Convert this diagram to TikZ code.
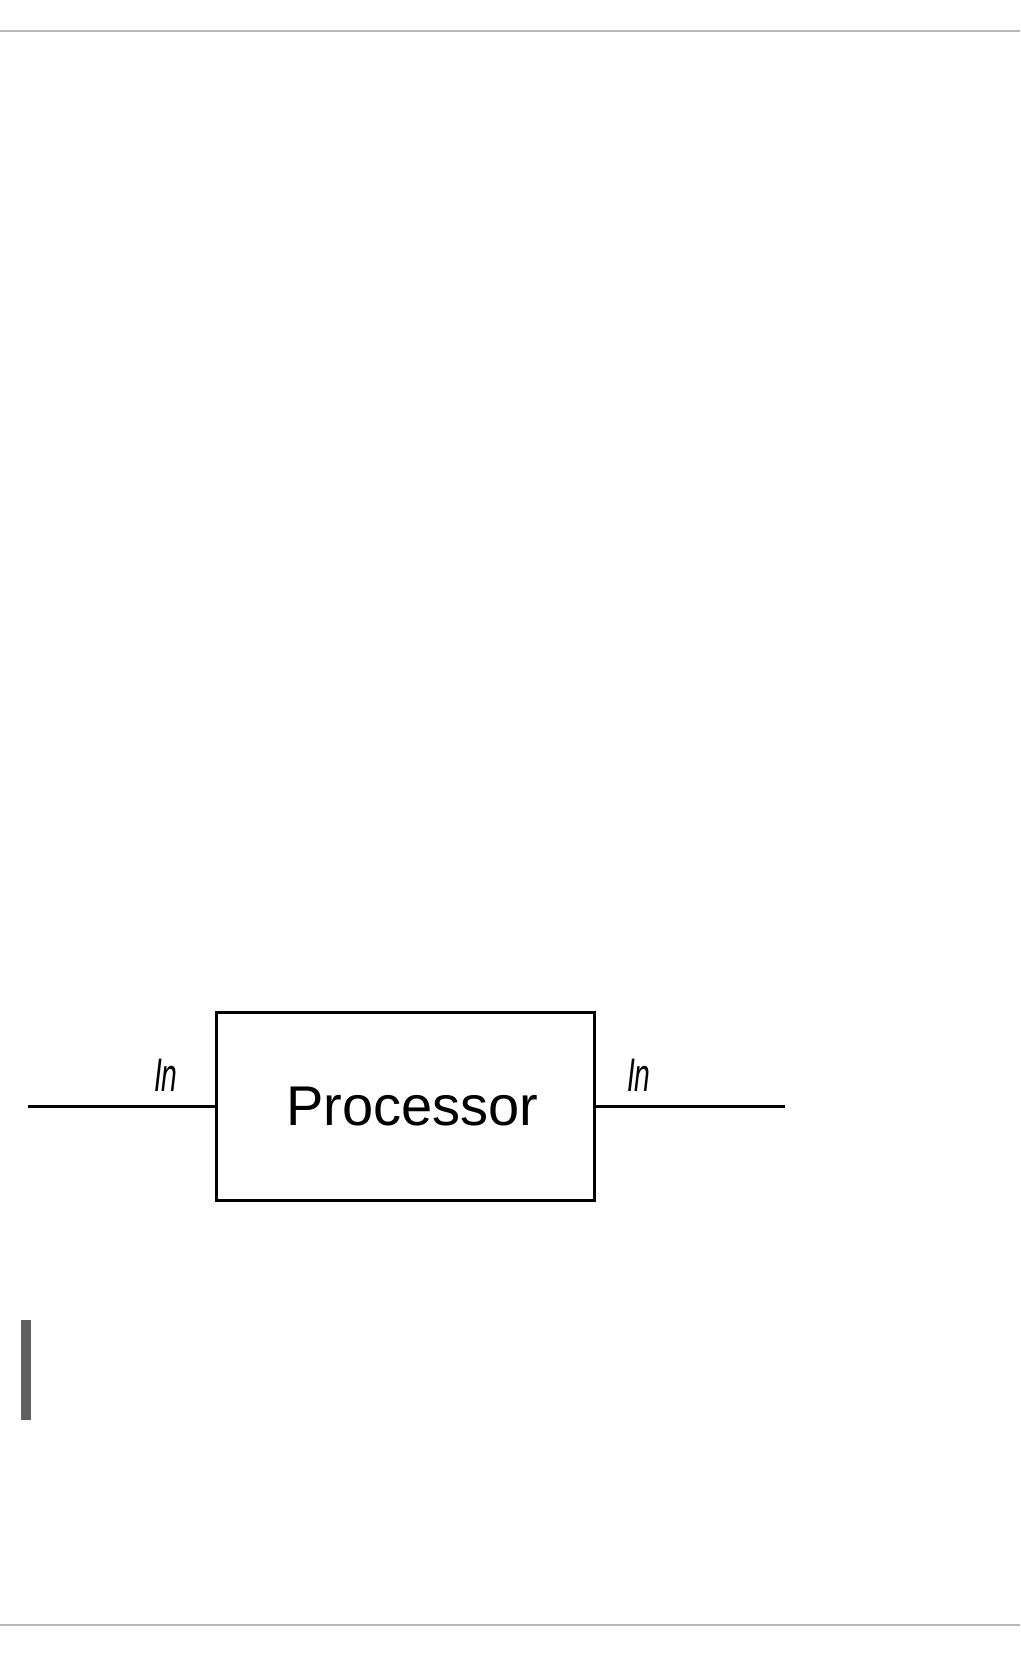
\documentclass[tikz,border=0pt]{standalone}
\usepackage{fontspec}
\setmainfont{Liberation Sans}
\begin{document}
\begin{tikzpicture}[x=1pt,y=-1pt,
  rule/.style={draw=rulegray,line width=2pt},
  procbox/.style={draw=black,line width=2.8pt,minimum width=378pt,minimum height=188pt,inner sep=0pt},
  proctext/.style={inner sep=0pt,font=\fontsize{56}{60}\selectfont},
  wire/.style={draw=black,line width=2.8pt},
  inlabel/.style={inner sep=0pt,font=\fontsize{47}{50}\selectfont\itshape,xscale=0.6}]
\definecolor{rulegray}{HTML}{B8B8B8}
\definecolor{bargray}{HTML}{606060}
\useasboundingbox (0,0) rectangle (1020,1656);
\fill[white] (0,0) rectangle (1020,1656);
\coordinate (tl) at (0,30.7);
\coordinate (tr) at (1020,30.7);
\coordinate (bl) at (0,1624.5);
\coordinate (br) at (1020,1624.5);
\draw[rule] (tl) -- (tr);
\draw[rule] (bl) -- (br);
\node[procbox] (proc) at (405.5,1106.6) {};
\node[proctext] (ptext) at (412.5,1106.6) {Processor};
\coordinate (win) at (27.5,1106.6);
\coordinate (wout) at (784.5,1106.6);
\draw[wire] (win) -- (proc.west);
\draw[wire] (proc.east) -- (wout);
\node[inlabel] (inl) at (165.8,1075) {In};
\node[inlabel] (inr) at (638.8,1075) {In};
\fill[bargray] (21,1320) rectangle (31,1420);
\end{tikzpicture}
\end{document}
